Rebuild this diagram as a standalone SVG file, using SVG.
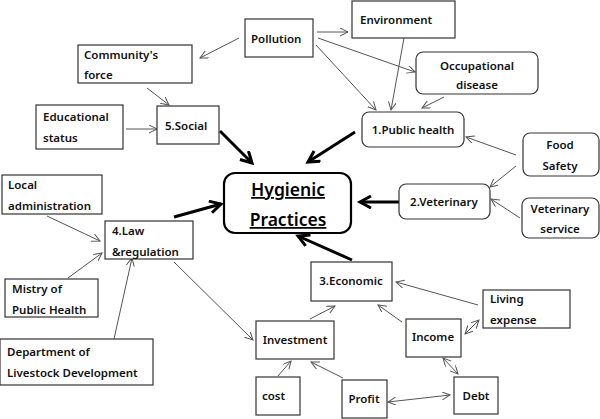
<svg xmlns="http://www.w3.org/2000/svg" width="600" height="419" viewBox="0 0 600 419">
<style>
.b{fill:#fff;stroke:#333;stroke-width:1.2}
.t{font-family:"Noto Sans","Open Sans",sans-serif;font-size:11.5px;font-weight:600;fill:#111}
.c{text-anchor:middle}
.a{stroke:#555;stroke-width:1;fill:none}
.k{stroke:#000;stroke-width:3;fill:none}
.h{font-family:"Noto Sans","Open Sans",sans-serif;font-size:17.5px;font-weight:600;fill:#000;text-anchor:middle;text-decoration:underline}
</style>
<defs>
<marker id="ar" markerUnits="userSpaceOnUse" markerWidth="12" markerHeight="10" refX="8" refY="4" orient="auto-start-reverse" viewBox="0 0 12 10">
<path d="M0,0 L8,4 L0,8" fill="none" stroke="#555" stroke-width="1"/>
</marker>
<marker id="ak" markerUnits="userSpaceOnUse" markerWidth="16" markerHeight="16" refX="12" refY="7" orient="auto" viewBox="0 0 16 16">
<path d="M1,1 L12,7 L1,13" fill="none" stroke="#000" stroke-width="3"/>
</marker>
</defs>
<g id="connectors">
<line class="a" x1="239" y1="38" x2="200" y2="58" marker-end="url(#ar)"/>
<line class="a" x1="147" y1="88" x2="169" y2="105" marker-end="url(#ar)"/>
<line class="a" x1="126" y1="129" x2="157" y2="129" marker-end="url(#ar)"/>
<line class="a" x1="317" y1="32" x2="348" y2="32" marker-end="url(#ar)"/>
<line class="a" x1="318" y1="38" x2="415" y2="72" marker-end="url(#ar)"/>
<line class="a" x1="316" y1="45" x2="376" y2="110" marker-end="url(#ar)"/>
<line class="a" x1="404" y1="38" x2="391" y2="110" marker-end="url(#ar)"/>
<line class="a" x1="444" y1="97" x2="422" y2="108" marker-end="url(#ar)"/>
<line class="a" x1="516" y1="155" x2="466" y2="137" marker-end="url(#ar)"/>
<line class="a" x1="516" y1="166" x2="490" y2="187" marker-end="url(#ar)"/>
<line class="a" x1="520" y1="218" x2="491" y2="199" marker-end="url(#ar)"/>
<line class="a" x1="47" y1="216" x2="100" y2="241" marker-end="url(#ar)"/>
<line class="a" x1="68" y1="278" x2="102" y2="253" marker-end="url(#ar)"/>
<line class="a" x1="114" y1="339" x2="132" y2="258" marker-end="url(#ar)"/>
<line class="a" x1="174" y1="262" x2="253" y2="340" marker-end="url(#ar)"/>
<line class="a" x1="310" y1="319" x2="335" y2="306" marker-end="url(#ar)"/>
<line class="a" x1="402" y1="322" x2="378" y2="305" marker-end="url(#ar)"/>
<line class="a" x1="478" y1="305" x2="396" y2="282" marker-end="url(#ar)"/>
<line class="a" x1="465" y1="334" x2="479" y2="320" marker-start="url(#ar)" marker-end="url(#ar)"/>
<line class="a" x1="443" y1="358" x2="458" y2="374" marker-start="url(#ar)" marker-end="url(#ar)"/>
<line class="a" x1="388" y1="402" x2="450" y2="395" marker-start="url(#ar)" marker-end="url(#ar)"/>
<line class="a" x1="343" y1="378" x2="311" y2="362" marker-end="url(#ar)"/>
<line class="a" x1="278" y1="376" x2="291" y2="361" marker-end="url(#ar)"/>
<line class="k" x1="220" y1="131" x2="252" y2="163" marker-end="url(#ak)"/>
<line class="k" x1="355" y1="132" x2="308" y2="162" marker-end="url(#ak)"/>
<line class="k" x1="399" y1="202" x2="360" y2="202" marker-end="url(#ak)"/>
<line class="k" x1="352" y1="260" x2="298" y2="236" marker-end="url(#ak)"/>
<line class="k" x1="174" y1="217" x2="221" y2="204" marker-end="url(#ak)"/>
</g>
<g id="hygienic">
<rect x="224" y="173" width="127" height="60" rx="11" fill="#fff" stroke="#000" stroke-width="2.2"/>
<text class="h" x="288" y="196">Hygienic</text>
<text class="h" x="288" y="226">Practices</text>
</g>
<g id="pollution"><rect class="b" x="245" y="19" width="68" height="38"/><text class="t" x="251" y="43">Pollution</text></g>
<g id="environment"><rect class="b" x="352" y="1" width="103" height="37"/><text class="t" x="360" y="24">Environment</text></g>
<g id="occupational"><rect class="b" x="416" y="52" width="122" height="42" rx="7"/><text class="t c" x="477" y="70">Occupational</text><text class="t c" x="477" y="89">disease</text></g>
<g id="community"><rect class="b" x="78" y="45" width="114" height="38"/><text class="t" x="84" y="59">Community's</text><text class="t" x="84" y="79">force</text></g>
<g id="educational"><rect class="b" x="36" y="105" width="87" height="44"/><text class="t" x="43" y="121">Educational</text><text class="t" x="43" y="142">status</text></g>
<g id="social"><rect class="b" x="157" y="106" width="62" height="38"/><text class="t" x="165" y="130">5.Social</text></g>
<g id="publichealth"><rect class="b" x="362" y="112" width="102" height="35" rx="7"/><text class="t c" x="413" y="134">1.Public health</text></g>
<g id="foodsafety"><rect class="b" x="523" y="133" width="76" height="43" rx="7"/><text class="t c" x="560" y="149">Food</text><text class="t c" x="560" y="170">Safety</text></g>
<g id="veterinary"><rect class="b" x="399" y="184" width="91" height="35" rx="7"/><text class="t c" x="444" y="206">2.Veterinary</text></g>
<g id="vetservice"><rect class="b" x="522" y="198" width="77" height="40" rx="7"/><text class="t c" x="560" y="213">Veterinary</text><text class="t c" x="560" y="233">service</text></g>
<g id="local"><rect class="b" x="2" y="175" width="100" height="39"/><text class="t" x="8" y="189">Local</text><text class="t" x="8" y="210">administration</text></g>
<g id="law"><rect class="b" x="105" y="221" width="88" height="38"/><text class="t" x="112" y="235">4.Law</text><text class="t" x="112" y="256">&amp;regulation</text></g>
<g id="mistry"><rect class="b" x="5" y="279" width="93" height="38"/><text class="t" x="12" y="293">Mistry of</text><text class="t" x="12" y="314">Public Health</text></g>
<g id="department"><rect class="b" x="0" y="339" width="153" height="46"/><text class="t" x="7" y="356">Department of</text><text class="t" x="7" y="377">Livestock Development</text></g>
<g id="economic"><rect class="b" x="311" y="262" width="81" height="39"/><text class="t c" x="351" y="285">3.Economic</text></g>
<g id="living"><rect class="b" x="483" y="290" width="87" height="38"/><text class="t" x="490" y="303">Living</text><text class="t" x="490" y="324">expense</text></g>
<g id="investment"><rect class="b" x="256" y="321" width="78" height="38"/><text class="t c" x="295" y="344">Investment</text></g>
<g id="income"><rect class="b" x="406" y="319" width="55" height="38"/><text class="t c" x="433" y="341">Income</text></g>
<g id="cost"><rect class="b" x="256" y="377" width="44" height="38"/><text class="t" x="262" y="400">cost</text></g>
<g id="profit"><rect class="b" x="342" y="380" width="45" height="38"/><text class="t c" x="364" y="403">Profit</text></g>
<g id="debt"><rect class="b" x="454" y="377" width="44" height="37"/><text class="t c" x="476" y="400">Debt</text></g>
</svg>
